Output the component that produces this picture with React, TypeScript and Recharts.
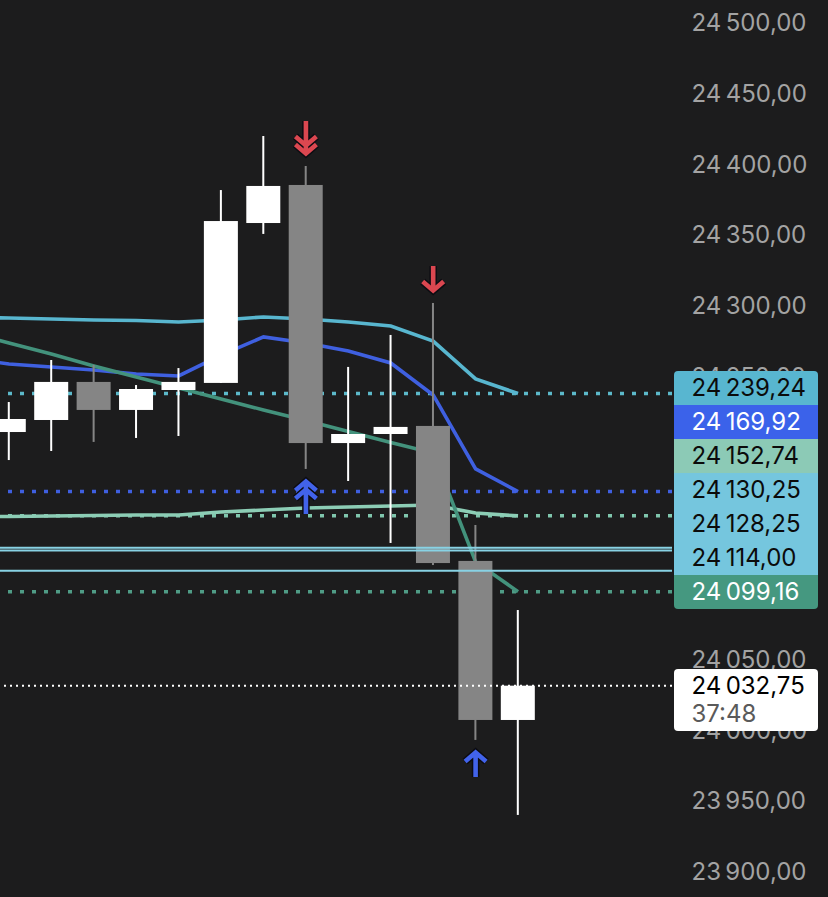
import React from 'react';
import { ComposedChart, Bar, Line, XAxis, YAxis, ReferenceLine } from 'recharts';

const slots = [-1, 0, 1, 2, 3, 4, 5, 6, 7, 8, 9, 10, 11, 12];

const opens = [null, 24212, 24220.5, 24247.4, 24227.6, 24241.7, 24246.7, 24359.7, 24386.6, 24204.2, 24210.6, 24216.3, 24120.9, 24008.5];
const closes = [null, 24221.2, 24247.4, 24227.6, 24242.4, 24247.4, 24361.1, 24385.9, 24204.2, 24210.6, 24215.6, 24119.4, 24008.5, 24032.75];
const highs = [null, 24233.2, 24262.9, 24259.4, 24245.2, 24257.2, 24383, 24421.2, 24400, 24258, 24280.6, 24303.2, 24146.3, 24086.2];
const lows = [null, 24192.2, 24198.6, 24205, 24207.8, 24209.2, 24246.7, 24352, 24185.9, 24177.4, 24133.6, 24118, 23994.4, 23941.4];

const maTeal = [24292.9, 24292.6, 24291.9, 24291.2, 24290.8, 24289.8, 24291.2, 24293.3, 24291.9, 24289.8, 24286.9, 24276.3, 24249.5, 24239.24];
const maBlue = [24264.3, 24260.1, 24258, 24255.8, 24253, 24251.6, 24266.4, 24279.2, 24274.9, 24269.3, 24260.8, 24238.2, 24185.9, 24169.92];
const maGreen = [24282.7, 24274.9, 24267.1, 24258.7, 24250.9, 24243.1, 24235.3, 24227.6, 24220.1, 24212.4, 24204.6, 24197.2, 24120.2, 24099.16];
const maMint = [24152.3, 24152.3, 24152.7, 24153, 24153.4, 24153.4, 24155.5, 24156.9, 24158.3, 24159, 24159.7, 24160.4, 24154.8, 24152.74];

// arrow tip prices, null where a candle has no signal
const signalPrices = [null, null, null, null, null, null, null, null, 24406.4, null, null, 24309.5, 23988, null];
const signalKinds = ['', '', '', '', '', '', '', '', 'sell2', '', '', 'sell1', 'buy1', ''];
const buyDoublePrices = [null, null, null, null, null, null, null, null, 24179.5, null, null, null, null, null];

// 24200, 24150 and 24100 sit fully behind the price tags
const priceTicks = [24500, 24450, 24400, 24350, 24300, 24250, 24050, 24000, 23950, 23900];

const dottedLevels = [24239.24, 24169.92, 24152.74, 24099.16];
const dottedColors = ['#5cb9ca', '#3f5fe0', '#7fc6ad', '#4f9c86'];
const solidLevels = [24130.25, 24128.25, 24114];
const lastPrice = 24032.75;
const countdown = '37:48';

const tagValues = [24239.24, 24169.92, 24152.74, 24130.25, 24128.25, 24114, 24099.16];
const tagColors = ['#58b6d0', '#3b62ea', '#8ccab6', '#75c6de', '#75c6de', '#75c6de', '#459880'];
const tagTextColors = ['#0b0b0b', '#ffffff', '#0b0b0b', '#0b0b0b', '#0b0b0b', '#0b0b0b', '#ffffff'];

const FONT = 'Inter, sans-serif';
const BG = '#1c1c1d';
const UP = '#ffffff';
const DOWN = '#858585';

const fmt = (v: number) => {
  const [a, b] = v.toFixed(2).split('.');
  return a.slice(0, 2) + '\u2009' + a.slice(2) + ',' + b;
};

const rows = slots.map((slot, i) => ({
  slot,
  open: opens[i],
  close: closes[i],
  high: highs[i],
  low: lows[i],
  maTeal: maTeal[i],
  maBlue: maBlue[i],
  maGreen: maGreen[i],
  maMint: maMint[i],
  signal: signalPrices[i],
  kind: signalKinds[i],
  buyDouble: buyDoublePrices[i],
}));

const Candle = (props: any) => {
  const { x, y, width, height, payload } = props;
  if (payload.high == null) return null;
  const k = height / (payload.high - payload.low);
  const color = payload.close >= payload.open ? UP : DOWN;
  const top = y + (payload.high - Math.max(payload.open, payload.close)) * k;
  const h = Math.abs(payload.close - payload.open) * k;
  return (
    <g>
      <rect x={x + width / 2 - 1} y={y} width={2} height={height} fill={color} />
      <rect x={x} y={top} width={width} height={h} fill={color} />
    </g>
  );
};

const ArrowGlyph = ({ cx, cy, double, color, up }: any) => {
  const chevrons = double
    ? ['M-10.5 -12.5L0 -3.5L10.5 -12.5', 'M-10.5 -20.5L0 -11.5L10.5 -20.5']
    : ['M-10.5 -12.5L0 -3.5L10.5 -12.5'];
  const shaft = `M0 ${double ? -36 : -28}L0 -5`;
  const d = [shaft, ...chevrons].join('');
  return (
    <g transform={`translate(${cx},${cy}) scale(1,${up ? -1 : 1})`} fill="none">
      <path d={d} stroke="#0c0c12" strokeWidth={7.5} />
      <path d={d} stroke={color} strokeWidth={4.6} />
    </g>
  );
};

const SignalDot = (props: any) => {
  const { cx, cy, payload } = props;
  if (payload.signal == null) return <g key={payload.slot} />;
  const kind = payload.kind;
  return (
    <ArrowGlyph
      key={payload.slot}
      cx={cx}
      cy={cy}
      double={kind === 'sell2'}
      up={kind === 'buy1'}
      color={kind === 'buy1' ? '#4263ea' : '#db4750'}
    />
  );
};

const BuyDoubleDot = (props: any) => {
  const { cx, cy, payload } = props;
  if (payload.buyDouble == null) return <g key={payload.slot} />;
  return <ArrowGlyph key={payload.slot} cx={cx} cy={cy} double up color="#4263ea" />;
};

const PriceTick = (props: any) => (
  <text x={691.5} y={props.y - 2} dy="0.36em" fill="#a3a3a3" fontSize={24} fontFamily={FONT} textAnchor="start">
    {fmt(props.payload.value)}
  </text>
);

export default function App() {
  return (
    <div style={{ position: 'absolute', left: 0, top: 0, width: 828, height: 897, background: BG, overflow: 'hidden' }}>
      <ComposedChart
        width={828}
        height={897}
        data={rows}
        margin={{ top: 24.5, right: 0, bottom: 23.5, left: 0 }}
      >
        <XAxis type="number" dataKey="slot" domain={[-0.212, 15.63]} allowDataOverflow hide />
        <YAxis
          orientation="right"
          width={156}
          domain={[23900, 24500]}
          ticks={priceTicks}
          interval={0}
          axisLine={false}
          tickLine={false}
          tick={<PriceTick />}
        />
        {dottedLevels.map((level, i) => (
          <ReferenceLine key={level} y={level} stroke={dottedColors[i]} strokeWidth={3.5} strokeDasharray="4 8" zIndex={350} />
        ))}
        <Line dataKey="maTeal" stroke="#58b6cf" strokeWidth={3.6} dot={false} isAnimationActive={false} />
        <Line dataKey="maBlue" stroke="#3f60e0" strokeWidth={3.6} dot={false} isAnimationActive={false} />
        <Line dataKey="maMint" stroke="#8ccdb5" strokeWidth={3.6} dot={false} isAnimationActive={false} />
        <Line dataKey="maGreen" stroke="#43927c" strokeWidth={3.6} dot={false} isAnimationActive={false} />
        <Bar
          dataKey={(row: any) => (row.high == null ? null : [row.low, row.high])}
          barSize={34}
          shape={<Candle />}
          isAnimationActive={false}
          zIndex={450}
        />
        {solidLevels.map((level) => (
          <ReferenceLine key={level} y={level} stroke="#88d2e4" strokeWidth={2} zIndex={460} />
        ))}
        <ReferenceLine y={lastPrice} stroke="#ffffff" strokeWidth={2} strokeDasharray="2 4" zIndex={460} />
        <Line dataKey="signal" stroke="none" dot={<SignalDot />} isAnimationActive={false} />
        <Line dataKey="buyDouble" stroke="none" dot={<BuyDoubleDot />} isAnimationActive={false} />
      </ComposedChart>

      <div
        style={{
          position: 'absolute',
          left: 674,
          top: 371,
          width: 144,
          borderRadius: 4,
          overflow: 'hidden',
          fontFamily: FONT,
          fontSize: 24,
        }}
      >
        {tagValues.map((v, i) => (
          <div
            key={v}
            style={{
              height: 34,
              lineHeight: '34px',
              paddingLeft: 17.5,
              background: tagColors[i],
              color: tagTextColors[i],
            }}
          >
            {fmt(v)}
          </div>
        ))}
      </div>

      <div
        style={{
          position: 'absolute',
          left: 674,
          top: 669,
          width: 144,
          height: 62,
          paddingLeft: 17.5,
          boxSizing: 'border-box',
          borderRadius: 4,
          background: '#ffffff',
          fontFamily: FONT,
          fontSize: 24,
          lineHeight: '28px',
          paddingTop: 3,
        }}
      >
        <div style={{ color: '#000000' }}>{fmt(lastPrice)}</div>
        <div style={{ color: '#5a5a5a' }}>{countdown}</div>
      </div>
    </div>
  );
}
